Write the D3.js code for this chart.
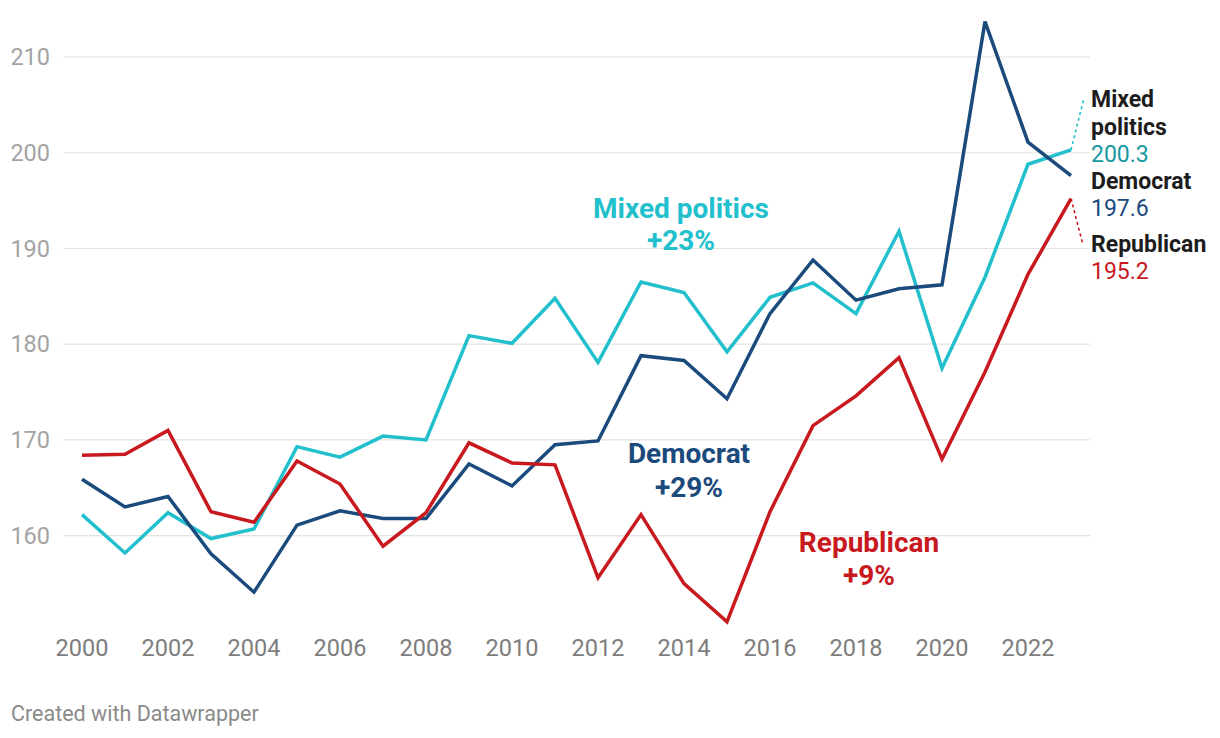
<!DOCTYPE html>
<html>
<head>
<meta charset="utf-8">
<script src="https://cdn.jsdelivr.net/npm/d3@7"></script>
<style>
  html, body { margin: 0; padding: 0; background: #fff; }
  svg { display: block; font-family: Roboto, "Noto Sans", sans-serif; }
</style>
</head>
<body>
<svg id="chart" width="1220" height="738"></svg>
<script>
const years = d3.range(2000, 2024);
const republican = [168.4, 168.5, 171.0, 162.5, 161.4, 167.8, 165.4, 158.9, 162.4, 169.7, 167.6, 167.4, 155.6, 162.2, 155.0, 151.0, 162.5, 171.5, 174.6, 178.6, 168.0, 177.1, 187.3, 195.2];
const democrat   = [165.9, 163.0, 164.1, 158.1, 154.1, 161.1, 162.6, 161.8, 161.8, 167.5, 165.2, 169.5, 169.9, 178.8, 178.3, 174.3, 183.2, 188.8, 184.6, 185.8, 186.2, 213.7, 201.1, 197.6];
const mixed      = [162.2, 158.2, 162.4, 159.7, 160.7, 169.3, 168.2, 170.4, 170.0, 180.9, 180.1, 184.8, 178.1, 186.5, 185.4, 179.2, 184.9, 186.4, 183.2, 191.8, 177.5, 187.0, 198.8, 200.3];
const yTicks = [160, 170, 180, 190, 200, 210];
const xTicks = d3.range(2000, 2023, 2);

const series = [
  {name: "Mixed politics", values: mixed, color: "#22bfcc", valueColor: "#17999f", inline: ["Mixed politics", "+23%"], end: ["Mixed", "politics"]},
  {name: "Democrat", values: democrat, color: "#1b4a7c", valueColor: "#1b4a7c", inline: ["Democrat", "+29%"], end: ["Democrat"]},
  {name: "Republican", values: republican, color: "#c8191f", valueColor: "#c8191f", inline: ["Republican", "+9%"], end: ["Republican"]}
];

const svg = d3.select("#chart");
const x = d3.scaleLinear().domain([2000, 2023]).range([82, 1071]);
const y = d3.scaleLinear().domain([160, 210]).range([535.7, 57]);

// gridlines
svg.append("g").selectAll("line").data(yTicks).join("line")
  .attr("x1", 63).attr("x2", 1090)
  .attr("y1", d => y(d)).attr("y2", d => y(d))
  .attr("stroke", "#e3e3e3").attr("stroke-width", 1.2);

// y labels
svg.append("g").selectAll("text").data(yTicks).join("text")
  .attr("x", 50).attr("y", d => y(d)).attr("dy", "0.35em")
  .attr("text-anchor", "end").attr("font-size", 23.5).attr("fill", "#a3a3a3")
  .text(d => d);

// x labels
svg.append("g").selectAll("text").data(xTicks).join("text")
  .attr("x", d => x(d)).attr("y", 656)
  .attr("text-anchor", "middle").attr("font-size", 23.5).attr("fill", "#7d7d7d")
  .text(d => d);

const line = d3.line().x((d, i) => x(years[i])).y(d => y(d));

svg.append("g").selectAll("path").data(series).join("path")
  .attr("d", d => line(d.values))
  .attr("fill", "none").attr("stroke", d => d.color)
  .attr("stroke-width", 3.5).attr("stroke-linejoin", "miter").attr("stroke-linecap", "butt");

// inline labels
const inlinePos = [
  {cx: 681, y1: 218, y2: 250},
  {cx: 689, y1: 463, y2: 497},
  {cx: 869, y1: 552, y2: 585}
];
series.forEach((s, i) => {
  const p = inlinePos[i];
  const t = svg.append("text").attr("text-anchor", "middle").attr("font-size", 28)
    .attr("font-weight", 700).attr("fill", s.color);
  t.append("tspan").attr("x", p.cx).attr("y", p.y1).text(s.inline[0]);
  t.append("tspan").attr("x", p.cx).attr("y", p.y2).text(s.inline[1]);
});

// end labels
const endX = 1091;
const endPos = [
  {lines: [107, 135], value: 162, lead: [1084, 98]},
  {lines: [189], value: 216, lead: null},
  {lines: [252], value: 279, lead: [1083, 245]}
];
series.forEach((s, i) => {
  const p = endPos[i];
  const last = s.values[s.values.length - 1];
  s.end.forEach((txt, j) => {
    svg.append("text").attr("x", endX).attr("y", p.lines[j])
      .attr("font-size", 23).attr("font-weight", 700).attr("fill", "#1d1d1d").text(txt);
  });
  svg.append("text").attr("x", endX).attr("y", p.value)
    .attr("font-size", 23).attr("fill", s.valueColor).text(d3.format(".1f")(last));
  if (p.lead) {
    svg.append("line")
      .attr("x1", x(2023)).attr("y1", y(last))
      .attr("x2", p.lead[0]).attr("y2", p.lead[1])
      .attr("stroke", s.color).attr("stroke-width", 1.6).attr("stroke-dasharray", "3,3");
  }
});

// footer
svg.append("text").attr("x", 11).attr("y", 721).attr("font-size", 21.5)
  .attr("fill", "#8a8a8a").text("Created with Datawrapper");
</script>
</body>
</html>
